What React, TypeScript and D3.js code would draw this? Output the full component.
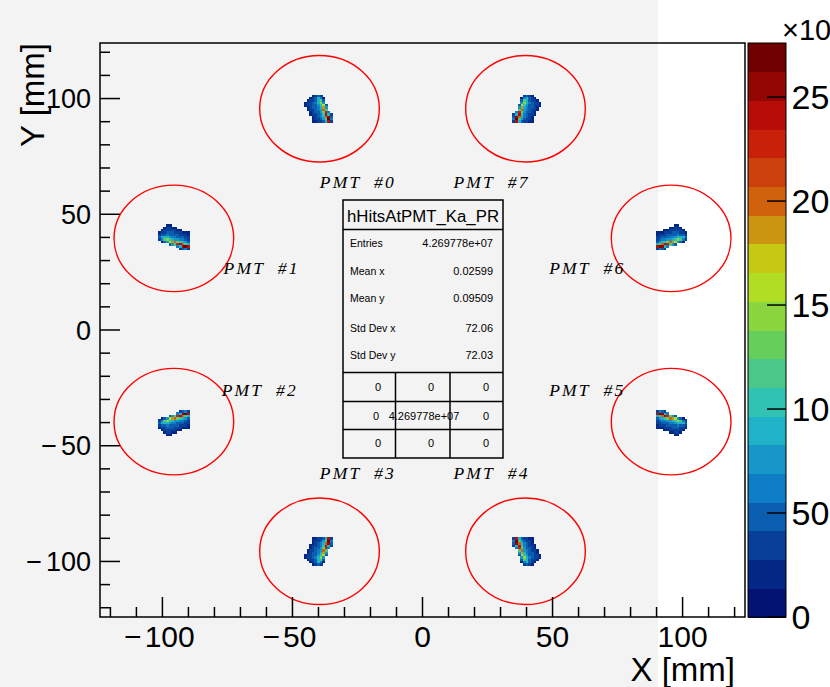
import React from 'react';
import * as d3 from 'd3';

const W = 830;
const H = 687;

// axis ranges / ticks (mm)
const xDomain = [-124, 124];
const yDomain = [-124, 124];
const majorTicks = [-100, -50, 0, 50, 100];
const minorTicks = [-120, -110, -90, -80, -70, -60, -40, -30, -20, -10, 10, 20, 30, 40, 60, 70, 80, 90, 110, 120];

// colour axis (thousands of hits)
const zMax = 276;
const nContours = 20;
const zTicks = [0, 50, 100, 150, 200, 250];
const zTickLabels = ['0', '50', '100', '150', '200', '250'];

// PMTs
const pmtNames = ['PMT  #0', 'PMT  #1', 'PMT  #2', 'PMT  #3', 'PMT  #4', 'PMT  #5', 'PMT  #6', 'PMT  #7'];
const pmtCenterX = [-39.6, -95.6, -95.6, -39.6, 39.6, 95.6, 95.6, 39.6];
const pmtCenterY = [95.6, 39.6, -39.6, -95.6, -95.6, -39.6, 39.6, 95.6];
const pmtRadius = 23;
const labelX = [-39.5, -76.5, -77.2, -39.5, 11.9, 48.7, 48.7, 11.9];
const labelY = [61.5, 24.0, -28.5, -64.5, -64.5, -28.5, 24.0, 61.5];
// orientation of the hit pattern for each PMT: (u,v) -> (a*u+b*v, c*u+d*v)
const pmtOrient = [
  [1, 0, 0, 1],
  [0, -1, -1, 0],
  [0, -1, 1, 0],
  [1, 0, 0, -1],
  [-1, 0, 0, -1],
  [0, 1, 1, 0],
  [0, 1, -1, 0],
  [-1, 0, 0, 1],
];

// hit pattern of one PMT (thousands of hits per 1mm bin), rows top->bottom, cols left->right
const hitPattern = [
  [0, 0, 0, 20, 30, 45, 30, 0, 0, 0, 0],
  [0, 0, 20, 30, 45, 90, 60, 25, 0, 0, 0],
  [0, 20, 30, 40, 55, 85, 120, 50, 0, 0, 0],
  [20, 30, 40, 45, 60, 90, 140, 70, 0, 0, 0],
  [15, 30, 40, 45, 55, 75, 105, 160, 50, 0, 0],
  [0, 25, 35, 45, 50, 65, 95, 185, 70, 0, 0],
  [0, 20, 30, 40, 50, 60, 80, 200, 120, 0, 0],
  [0, 0, 25, 35, 45, 55, 70, 130, 225, 60, 0],
  [0, 0, 20, 30, 40, 50, 65, 100, 245, 90, 30],
  [0, 0, 0, 25, 35, 45, 60, 85, 205, 255, 45],
  [0, 0, 0, 25, 30, 40, 55, 70, 120, 270, 60],
  [0, 0, 0, 20, 25, 30, 40, 55, 85, 240, 40],
];
const patternU0 = -6;
const patternV0 = 6;

// stats box
const statsTitle = 'hHitsAtPMT_Ka_PR';
const statsLabels = ['Entries', 'Mean x', 'Mean y', 'Std Dev x', 'Std Dev y'];
const statsValues = ['4.269778e+07', '0.02599', '0.09509', '72.06', '72.03'];
const tableRows = [
  ['0', '0', '0'],
  ['0', '4.269778e+07', '0'],
  ['0', '0', '0'],
];

// ROOT kRainBow palette
const palStops = [0, 0.125, 0.25, 0.375, 0.5, 0.625, 0.75, 0.875, 1];
const palR = [0, 5, 15, 35, 102, 196, 208, 199, 110];
const palG = [0, 48, 124, 192, 206, 226, 97, 16, 0];
const palB = [99, 142, 198, 201, 90, 22, 13, 8, 2];

function palette(t: number) {
  const tt = Math.max(0, Math.min(1, t));
  let i = 0;
  while (i < palStops.length - 2 && tt > palStops[i + 1]) i++;
  const f = (tt - palStops[i]) / (palStops[i + 1] - palStops[i]);
  const r = Math.round(palR[i] + (palR[i + 1] - palR[i]) * f);
  const g = Math.round(palG[i] + (palG[i + 1] - palG[i]) * f);
  const b = Math.round(palB[i] + (palB[i + 1] - palB[i]) * f);
  return `rgb(${r},${g},${b})`;
}
function bandColor(i: number) {
  return palette(Math.min(1, (i + 0.99) / nContours));
}

const FL = 100, FR = 745, FT = 43, FB = 617;
const CB_L = 748, CB_R = 786;
const sans = '"Liberation Sans", Arial, Helvetica, sans-serif';
const serif = '"Liberation Serif", "Times New Roman", serif';

function Num({ v, gap }: { v: number; gap: number }) {
  if (v < 0) {
    return (<>
      <tspan>{'\u2212'}</tspan>
      <tspan dx={gap}>{`${-v}`}</tspan>
    </>);
  }
  return <>{`${v}`}</>;
}

export default function App() {
  const x = d3.scaleLinear().domain(xDomain).range([FL, FR]);
  const y = d3.scaleLinear().domain(yDomain).range([FB, FT]);
  const z = d3.scaleLinear().domain([0, zMax]).range([FB, FT]);
  const bandH = (FB - FT) / nContours;

  const cells: JSX.Element[] = [];
  pmtCenterX.forEach((cx, k) => {
    const cy = pmtCenterY[k];
    const [a, b, c, d] = pmtOrient[k];
    hitPattern.forEach((row, r) => {
      row.forEach((val, col) => {
        if (val <= 0) return;
        const u0 = patternU0 + col, u1 = u0 + 1;
        const v1 = patternV0 - r, v0 = v1 - 1;
        const p0x = a * u0 + b * v0, p0y = c * u0 + d * v0;
        const p1x = a * u1 + b * v1, p1y = c * u1 + d * v1;
        const xa = x(cx + Math.min(p0x, p1x));
        const xb = x(cx + Math.max(p0x, p1x));
        const ya = y(cy + Math.max(p0y, p1y));
        const yb = y(cy + Math.min(p0y, p1y));
        const band = Math.min(nContours - 1, Math.floor((val / zMax) * nContours));
        cells.push(
          <rect key={`c${k}-${r}-${col}`} x={xa} y={ya} width={xb - xa + 0.4} height={yb - ya + 0.4} fill={bandColor(band)} />
        );
      });
    });
  });

  const SB = { l: 343, r: 503, t: 200, b: 458 };
  const statBase = [247, 275, 302, 332, 359];
  const tableLines = [372.5, 401.5, 429.5];
  const tableBase = [391, 420, 447];
  const colX = [[378, 431, 486], [376, 424, 486], [378, 431, 486]];

  return (
    <svg width={W} height={H} style={{ position: 'absolute', left: 0, top: 0 }} xmlns="http://www.w3.org/2000/svg">
      <rect x={0} y={0} width={W} height={H} fill="#ffffff" />
      <rect x={0} y={0} width={658} height={H} fill="#f3f3f3" />

      {/* PMT circles */}
      {pmtCenterX.map((cx, k) => (
        <ellipse key={`e${k}`} cx={x(cx)} cy={y(pmtCenterY[k])}
          rx={x(pmtRadius) - x(0)} ry={y(0) - y(pmtRadius)}
          fill="none" stroke="#ff0000" strokeWidth={1.4} />
      ))}

      {/* histogram cells */}
      <g shapeRendering="crispEdges">{cells}</g>

      {/* PMT labels */}
      {pmtNames.map((n, k) => (
        <text key={`l${k}`} x={x(labelX[k])} y={y(labelY[k])} fontFamily={serif} fontStyle="italic"
          fontSize={17.5} fill="#000" textLength={74} lengthAdjust="spacing" style={{ whiteSpace: 'pre' }}>{n}</text>
      ))}

      {/* stats box */}
      <g>
        <rect x={SB.l} y={SB.t} width={SB.r - SB.l} height={SB.b - SB.t} fill="#f3f3f3" stroke="#000" strokeWidth={1.5} />
        <line x1={SB.l} x2={SB.r} y1={229.5} y2={229.5} stroke="#000" strokeWidth={1.5} />
        <text x={(SB.l + SB.r) / 2} y={222} textAnchor="middle" fontFamily={sans} fontSize={16} textLength={152} lengthAdjust="spacingAndGlyphs">{statsTitle}</text>
        {statsLabels.map((s, i) => (
          <text key={`sl${i}`} x={350} y={statBase[i]} fontFamily={sans} fontSize={10.5} fill="#000">{s}</text>
        ))}
        {statsValues.map((s, i) => (
          <text key={`sv${i}`} x={493} y={statBase[i]} textAnchor="end" fontFamily={sans} fontSize={11} fill="#000">{s}</text>
        ))}
        {tableLines.map((ly, i) => (
          <line key={`tl${i}`} x1={SB.l} x2={SB.r} y1={ly} y2={ly} stroke="#000" strokeWidth={1.5} />
        ))}
        <line x1={395.5} x2={395.5} y1={372.5} y2={SB.b} stroke="#000" strokeWidth={1.5} />
        <line x1={450} x2={450} y1={372.5} y2={SB.b} stroke="#000" strokeWidth={1.5} />
        {tableRows.map((row, r) => row.map((s, c) => (
          <text key={`tc${r}-${c}`} x={colX[r][c]} y={tableBase[r]} textAnchor="middle" fontFamily={sans} fontSize={11} fill="#000">{s}</text>
        )))}
      </g>

      {/* frame */}
      <rect x={FL} y={FT} width={FR - FL} height={FB - FT} fill="none" stroke="#000" strokeWidth={1.5} />

      {/* x axis ticks */}
      {majorTicks.map(t => (
        <line key={`xM${t}`} x1={x(t)} x2={x(t)} y1={FB} y2={FB - 20} stroke="#000" strokeWidth={1.5} />
      ))}
      {minorTicks.map(t => (
        <line key={`xm${t}`} x1={x(t)} x2={x(t)} y1={FB} y2={FB - 10} stroke="#000" strokeWidth={1.5} />
      ))}
      {majorTicks.map(t => (
        <text key={`xl${t}`} x={x(t) - (t < 0 ? 3 : 0)} y={647} textAnchor="middle" fontFamily={sans} fontSize={30}><Num v={t} gap={3} /></text>
      ))}
      <text x={735} y={681} textAnchor="end" fontFamily={sans} fontSize={33}>X [mm]</text>

      {/* y axis ticks */}
      {majorTicks.map(t => (
        <line key={`yM${t}`} x1={FL} x2={FL + 20} y1={y(t)} y2={y(t)} stroke="#000" strokeWidth={1.5} />
      ))}
      {minorTicks.map(t => (
        <line key={`ym${t}`} x1={FL} x2={FL + 10} y1={y(t)} y2={y(t)} stroke="#000" strokeWidth={1.5} />
      ))}
      {majorTicks.map(t => (
        <text key={`yl${t}`} x={91} y={y(t) + 9.5} textAnchor="end" fontFamily={sans} fontSize={27}><Num v={t} gap={4} /></text>
      ))}
      <text transform={`translate(44,43) rotate(-90)`} textAnchor="end" fontFamily={sans} fontSize={33}>Y [mm]</text>

      {/* colour bar */}
      <g shapeRendering="crispEdges">
        {d3.range(nContours).map(i => (
          <rect key={`cb${i}`} x={CB_L} y={FB - (i + 1) * bandH} width={CB_R - CB_L} height={bandH + 0.5} fill={bandColor(i)} />
        ))}
      </g>
      <rect x={CB_L} y={FT} width={CB_R - CB_L} height={FB - FT} fill="none" stroke="#000" strokeWidth={1} />
      {zTicks.map(t => (
        <line key={`zt${t}`} x1={CB_R} x2={CB_R - 19} y1={z(t)} y2={z(t)} stroke="#000" strokeWidth={1.5} />
      ))}
      {zTicks.map((t, i) => (
        <text key={`zl${t}`} x={791.5} y={z(t) + 12} fontFamily={sans} fontSize={34}>{zTickLabels[i]}</text>
      ))}
      <text x={782} y={40} fontFamily={sans} fontSize={29}>{'\u00d710\u00b3'}</text>
    </svg>
  );
}
